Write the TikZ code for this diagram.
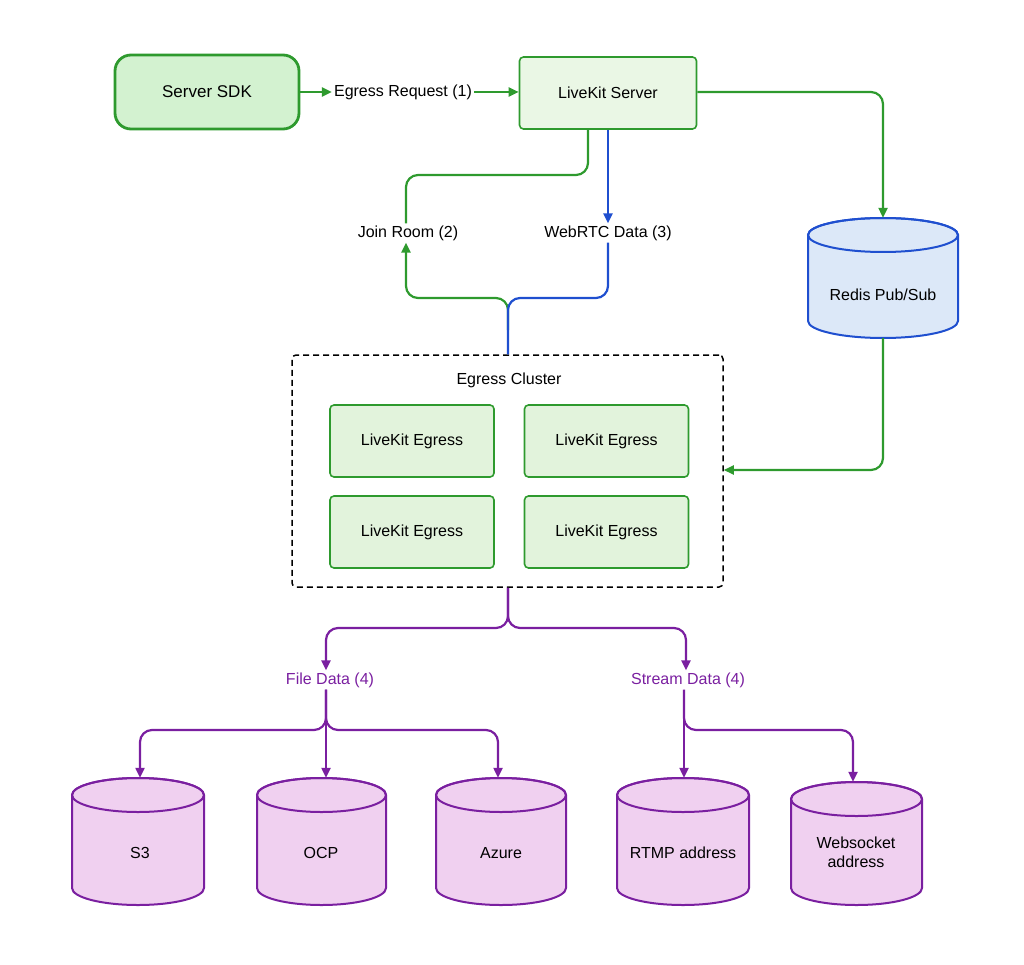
\documentclass[tikz,border=0pt]{standalone}
\usepackage{fontspec}
\setmainfont{Liberation Sans}
\usetikzlibrary{shapes.geometric,arrows.meta}
\definecolor{gr}{HTML}{2E9A2E}
\definecolor{gfill}{HTML}{D3F2D0}
\definecolor{gfill2}{HTML}{EAF7E5}
\definecolor{efill}{HTML}{E2F3DC}
\definecolor{bl}{HTML}{1F4FCF}
\definecolor{bfill}{HTML}{DCE8F8}
\definecolor{pu}{HTML}{7A1FA0}
\definecolor{pfill}{HTML}{F0D0F0}
% \mycyl{name}{cx}{top}{bottom}{width}{draw}{fill}
\newcommand\mycyl[7]{%
  \pgfmathsetmacro\rx{#5/2}\pgfmathsetmacro\xa{#2-\rx}\pgfmathsetmacro\xb{#2+\rx}%
  \pgfmathsetmacro\ta{#3+17}\pgfmathsetmacro\bb{#4-17}%
  \draw[draw=#6,fill=#7,line width=2pt] (\xa,\ta) -- (\xa,\bb) arc[start angle=180,end angle=360,x radius=\rx pt,y radius=17pt] -- (\xb,\ta) arc[start angle=0,end angle=180,x radius=\rx pt,y radius=17pt] -- cycle;
  \draw[draw=#6,line width=2pt] (#2,\ta) ellipse[x radius=\rx pt,y radius=17pt];
  \node[inner sep=0pt,minimum width=#5 pt,minimum height={#4-#3}] (#1) at (#2,{(#3+#4)/2}) {};}
\begin{document}
\begin{tikzpicture}[x=1pt,y=-1pt,font=\fontsize{16}{19}\selectfont,
  box/.style={draw=gr,fill=gfill2,line width=1.6pt,rounded corners=4pt,inner sep=0pt},
  ar/.style={-{Triangle[length=10pt,width=9pt]},line width=2.2pt,rounded corners=12pt},
  ln/.style={line width=2.2pt,rounded corners=12pt},
  lbl/.style={inner sep=2pt}]
\useasboundingbox (0,0) rectangle (1024,965);
\node[draw=gr,fill=gfill,line width=2.8pt,rounded corners=16pt,minimum width=184pt,minimum height=74pt,font=\fontsize{17}{20}\selectfont] (sdk) at (207,92) {Server SDK};
\node[box,minimum width=177pt,minimum height=72pt] (ls) at (608,93) {LiveKit Server};
\node[lbl,anchor=base] (req) at (403,97) {Egress Request (1)};
\draw[ar,draw=gr] (sdk.east |- 0,92) -- (req.west |- 0,92);
\draw[ar,draw=gr] (req.east |- 0,92) -- (ls.west |- 0,92);
\mycyl{redis}{883}{218}{338}{150}{bl}{bfill}
\node (redt) at (883,295) {Redis Pub/Sub};
\draw[ar,draw=gr] (ls.east |- 0,92) -- (883,92) -- (redis.north);
\node[draw,dash pattern=on 6pt off 4pt,line width=1.5pt,rounded corners=4pt,minimum width=431pt,minimum height=232pt] (cl) at (507.5,471) {};
\node (clt) at (509,380) {Egress Cluster};
\foreach \n/\x/\y in {e1/412/441,e2/606.5/441,e3/412/532,e4/606.5/532}
  \node[box,fill=efill,minimum width=164pt,minimum height=72pt] (\n) at (\x,\y) {LiveKit Egress};
\draw[ar,draw=gr] (redis.south) -- (883,470) -- (cl.east |- 0,470);
\node[lbl] (jr) at (408,233) {Join Room (2)};
\node[lbl] (wr) at (608,233) {WebRTC Data (3)};
\draw[ln,draw=gr] (ls.south -| 588,0) -- (588,175) -- (406,175) -- (jr.north -| 406,0);
\draw[ar,draw=bl] (ls.south) -- (wr.north);
\draw[ar,draw=gr] (508,330) -- (508,298) -- (406,298) -- (jr.south -| 406,0);
\draw[ln,draw=bl] (wr.south) -- (608,298) -- (508,298) -- (cl.north -| 508,0);
\node[lbl,text=pu] (fd) at (330,680) {File Data (4)};
\node[lbl,text=pu] (sd) at (688,680) {Stream Data (4)};
\draw[ar,draw=pu] (cl.south -| 508,0) -- (508,628) -- (326,628) -- (fd.north -| 326,0);
\draw[ar,draw=pu] (cl.south -| 508,0) -- (508,628) -- (686,628) -- (sd.north -| 686,0);
\mycyl{s3}{138}{778}{905}{132}{pu}{pfill}
\mycyl{ocp}{321.5}{778}{905}{129}{pu}{pfill}
\mycyl{az}{501}{778}{905}{130}{pu}{pfill}
\mycyl{rt}{683}{778}{905}{132}{pu}{pfill}
\mycyl{ws}{856.5}{782}{905}{131}{pu}{pfill}
\node at (140,853) {S3};
\node at (321,853) {OCP};
\node at (501,853) {Azure};
\node at (683,853) {RTMP address};
\node[align=center] at (856,852) {Websocket\\address};
\draw[ar,draw=pu] (fd.south -| 326,0) -- (326,730) -- (140,730) -- (s3.north -| 140,0);
\draw[ar,draw=pu] (fd.south -| 326,0) -- (ocp.north -| 326,0);
\draw[ar,draw=pu] (fd.south -| 326,0) -- (326,730) -- (498,730) -- (az.north -| 498,0);
\draw[ar,draw=pu] (sd.south -| 684,0) -- (rt.north -| 684,0);
\draw[ar,draw=pu] (sd.south -| 684,0) -- (684,730) -- (853,730) -- (ws.north -| 853,0);
\end{tikzpicture}
\end{document}
